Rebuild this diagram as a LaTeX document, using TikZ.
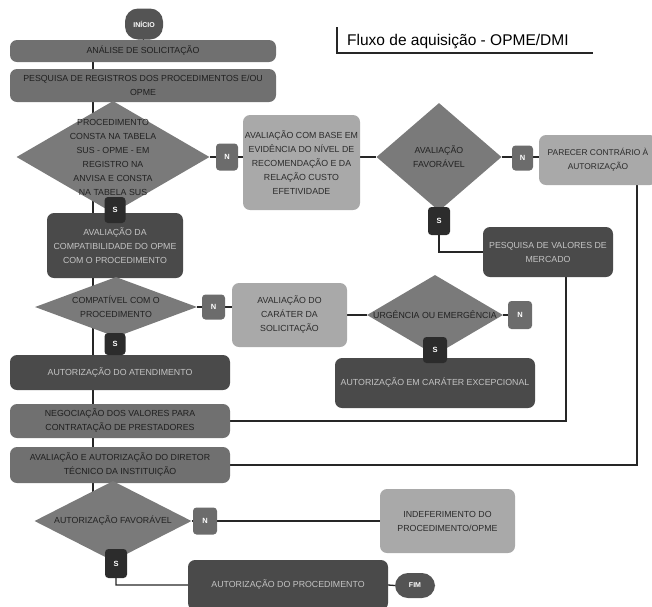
\documentclass[tikz,border=0pt]{standalone}
\usepackage{fontspec}
\setmainfont{Liberation Sans}
\usetikzlibrary{backgrounds,shapes.geometric}
\definecolor{midfill}{HTML}{707070}
\definecolor{midtext}{HTML}{1F1F1F}
\definecolor{diafill}{HTML}{7A7A7A}
\definecolor{diatext}{HTML}{222222}
\definecolor{lightfill}{HTML}{A9A9A9}
\definecolor{lighttext}{HTML}{2B2B2B}
\definecolor{darkfill}{HTML}{4A4A4A}
\definecolor{darktext}{HTML}{C4C4C4}
\definecolor{nfill}{HTML}{6C6C6C}
\definecolor{sfill}{HTML}{2C2C2C}
\definecolor{termfill}{HTML}{545454}
\definecolor{linec}{HTML}{262626}
\begin{document}
\begin{tikzpicture}[x=1pt,y=-1pt,
  wh/.style 2 args={minimum width=#1pt, minimum height=#2pt},
  boxbase/.style={rectangle, rounded corners=7pt, inner sep=0pt, align=center,
    font=\fontsize{8.8}{14}\selectfont},
  midbox/.style={boxbase, fill=midfill, text=midtext},
  lightbox/.style={boxbase, fill=lightfill, text=lighttext},
  darkbox/.style={boxbase, fill=darkfill, text=darktext},
  dia/.style={diamond, fill=diafill, inner sep=0pt},
  diatxt/.style={inner sep=0pt, align=center, text=diatext,
    font=\fontsize{8.8}{14}\selectfont},
  tagbase/.style={rectangle, rounded corners=3.5pt, inner sep=0pt, text=white,
    font=\bfseries\fontsize{7.5}{8}\selectfont},
  ntag/.style={tagbase, fill=nfill},
  stag/.style={tagbase, fill=sfill},
  term/.style={rectangle, rounded corners=13pt, inner sep=0pt, fill=termfill,
    text=white, font=\bfseries\fontsize{7}{8}\selectfont},
  conn/.style={draw=linec, line width=1.3pt}]
\useasboundingbox (0,0) rectangle (652,606);

% title
\node[anchor=west, inner sep=0pt, font=\fontsize{15.5}{18}\selectfont] (title) at (347,42) {Fluxo de aquisição - OPME/DMI};
\draw[draw=linec, line width=1.2pt] (337,27) -- (337,53) -- (593,53);

% main column
\node[midbox, wh={266}{22}] (ana) at (143,51) {ANÁLISE DE SOLICITAÇÃO};
\node[term, wh={38}{31}] (ini) at (144,24) {INÍCIO};
\node[midbox, wh={266}{33}] (pesq) at (143,85.5) {PESQUISA DE REGISTROS DOS PROCEDIMENTOS E/OU\\OPME};
\node[dia, wh={193}{112}] (d1) at (113,157) {};
\node[diatxt] (d1t) at (d1.center) {PROCEDIMENTO\\CONSTA NA TABELA\\SUS - OPME - EM\\REGISTRO NA\\ANVISA E CONSTA\\NA TABELA SUS};
\node[darkbox, wh={136}{65}] (comp) at (115,245.5) {AVALIAÇÃO DA\\COMPATIBILIDADE DO OPME\\COM O PROCEDIMENTO};
\node[dia, wh={162}{60}] (d3) at (116,307) {};
\node[diatxt] (d3t) at (d3.center) {COMPATÍVEL COM O\\PROCEDIMENTO};
\node[darkbox, wh={220}{35}] (atend) at (120,372.5) {AUTORIZAÇÃO DO ATENDIMENTO};
\node[midbox, wh={220}{34}] (neg) at (120,421) {NEGOCIAÇÃO DOS VALORES PARA\\CONTRATAÇÃO DE PRESTADORES};
\node[midbox, wh={220}{36}] (dir) at (120,465) {AVALIAÇÃO E AUTORIZAÇÃO DO DIRETOR\\TÉCNICO DA INSTITUIÇÃO};
\node[dia, wh={157}{80}] (d5) at (113,521) {};
\node[diatxt] (d5t) at (d5.center) {AUTORIZAÇÃO FAVORÁVEL};
\node[darkbox, wh={200}{50}] (proc) at (288,585) {AUTORIZAÇÃO DO PROCEDIMENTO};
\node[term, wh={40}{25}] (fim) at (415,585.5) {FIM};
\node[lightbox, wh={135}{64}] (ind) at (447.5,521) {INDEFERIMENTO DO\\PROCEDIMENTO/OPME};

% upper right
\node[lightbox, wh={117}{95}] (aval) at (301.5,162.5) {AVALIAÇÃO COM BASE EM\\EVIDÊNCIA DO NÍVEL DE\\RECOMENDAÇÃO E DA\\RELAÇÃO CUSTO\\EFETIVIDADE};
\node[dia, wh={125}{108}] (d2) at (439,157) {};
\node[diatxt] (d2t) at (d2.center) {AVALIAÇÃO\\FAVORÁVEL};
\node[lightbox, wh={118}{50}, font=\fontsize{8.4}{14}\selectfont] (par) at (598,160) {PARECER CONTRÁRIO À\\AUTORIZAÇÃO};
\node[darkbox, wh={130}{50}] (pval) at (548,252) {PESQUISA DE VALORES DE\\MERCADO};

% middle right
\node[lightbox, wh={115}{64}] (car) at (289.5,315) {AVALIAÇÃO DO\\CARÁTER DA\\SOLICITAÇÃO};
\node[dia, wh={136}{80}] (d4) at (435,315) {};
\node[diatxt] (d4t) at (d4.center) {URGÊNCIA OU EMERGÊNCIA};
\node[darkbox, wh={200}{50}] (exc) at (435,383) {AUTORIZAÇÃO EM CARÁTER EXCEPCIONAL};

% tags
\node[ntag, wh={22}{27}] (n1) at (227,157) {N};
\node[stag, wh={21}{26}] (s1) at (115,210) {S};
\node[ntag, wh={21}{25}] (n2) at (522.5,158) {N};
\node[stag, wh={22}{28}] (s2) at (439,221) {S};
\node[ntag, wh={23}{25}] (n3) at (213.5,307) {N};
\node[stag, wh={21}{22}] (s3) at (115,344) {S};
\node[ntag, wh={24}{28}] (n4) at (520,315) {N};
\node[stag, wh={24}{26}] (s4) at (435,350) {S};
\node[ntag, wh={24}{27}] (n5) at (205,521) {N};
\node[stag, wh={22}{29}] (s5) at (116,563.5) {S};

% connectors
\coordinate (sp) at (93,0);
\begin{pgfonlayer}{background}
\draw[conn] (ini.south) -- (ana.north);
\draw[conn] (ana.south -| sp) -- (d5.center -| sp);
\draw[conn] (d1.east) -- (d1.east -| aval.west);
\draw[conn] (d2.west -| aval.east) -- (d2.west);
\draw[conn] (d2.east) -- (d2.east -| par.west);
\draw[conn] (d2.south) -- (s2.south) |- (pval.west);
\draw[conn] ([xshift=18pt]pval.south) |- (neg.east);
\draw[conn] ([xshift=39pt]par.south) |- (dir.east);
\draw[conn] (d1.south) -- (comp.north -| d1.south);
\draw[conn] (d3.east) -- (d3.east -| car.west);
\draw[conn] (d4.west -| car.east) -- (d4.west);
\draw[conn] (d4.east) -- (n4.west);
\draw[conn] (d4.south) -- (exc.north);
\draw[conn] (d3.south) -- (atend.north -| d3.south);
\draw[conn] (d5.east) -- (d5.east -| ind.west);
\draw[conn] (d5.south) -- (s5.south) |- (proc.west);
\draw[conn] (proc.east) -- (fim.west);
\end{pgfonlayer}
\end{tikzpicture}
\end{document}
